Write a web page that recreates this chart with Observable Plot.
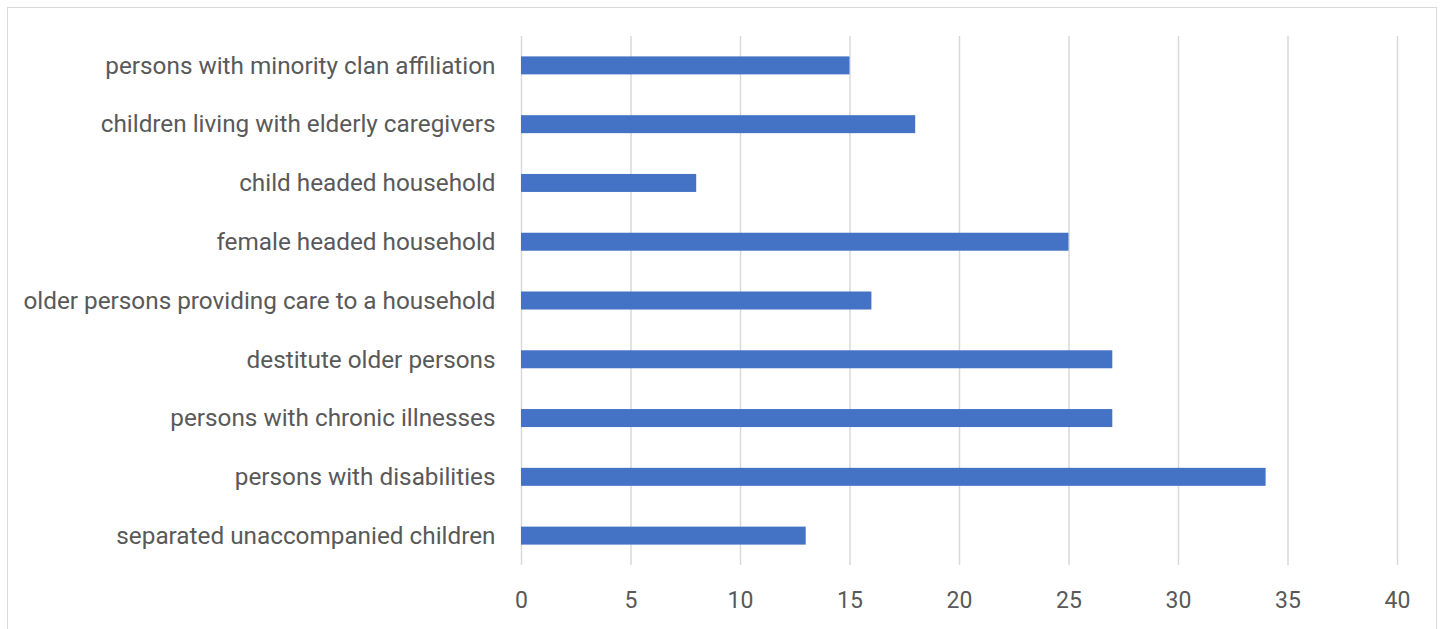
<!DOCTYPE html>
<html>
<head>
<meta charset="utf-8">
<script src="https://cdn.jsdelivr.net/npm/d3@7"></script>
<script src="https://cdn.jsdelivr.net/npm/@observablehq/plot@0.6"></script>
<style>
  html, body { margin: 0; padding: 0; background: #fff; overflow: hidden; }
  #wrap { position: relative; width: 1445px; height: 629px; }
  #frame { position: absolute; left: 7px; top: 7px; width: 1430px; height: 640px; border: 1px solid #d9d9d9; box-sizing: border-box; pointer-events: none; }
  #chart { position: absolute; left: 0; top: 0; }
</style>
</head>
<body>
<div id="wrap">
  <div id="frame"></div>
  <div id="chart"></div>
</div>
<script>
const categories = [
  "persons with minority clan affiliation",
  "children living with elderly caregivers",
  "child headed household",
  "female headed household",
  "older persons providing care to a household",
  "destitute older persons",
  "persons with chronic illnesses",
  "persons with disabilities",
  "separated unaccompanied children"
];
const values = [15, 18, 8, 25, 16, 27, 27, 34, 13];
const xTicks = [0, 5, 10, 15, 20, 25, 30, 35, 40];

const data = categories.map((c, i) => ({category: c, value: values[i]}));

const chart = Plot.plot({
  width: 1445,
  height: 629,
  marginLeft: 521,
  marginRight: 48,
  marginTop: 36,
  marginBottom: 64,
  style: {fontFamily: "Roboto", fontSize: "24px", color: "#595959", background: "transparent"},
  x: {domain: [0, 40], ticks: xTicks, label: null, round: false},
  y: {domain: categories, paddingInner: 0.694, paddingOuter: 0.347, round: false, label: null},
  marks: [
    Plot.ruleX(xTicks, {stroke: "#d9d9d9", strokeWidth: 1.5}),
    Plot.barX(data, {x: "value", y: "category", fill: "#4472C4"}),
    Plot.axisX({ticks: xTicks, tickSize: 0, tickPadding: 26, fontSize: 23, fill: "#595959", label: null}),
    Plot.axisY({tickSize: 0, tickPadding: 26, fontSize: 24.3, fill: "#595959", label: null})
  ]
});
document.getElementById("chart").appendChild(chart);
</script>
</body>
</html>
